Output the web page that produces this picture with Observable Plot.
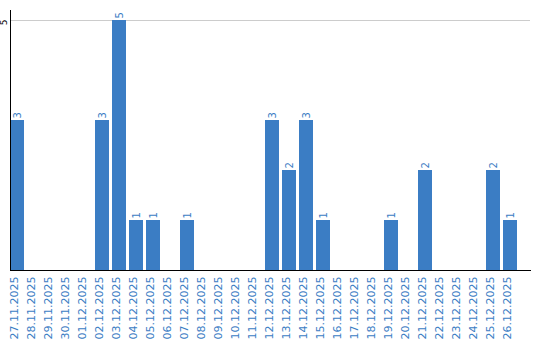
<!DOCTYPE html>
<html>
<head>
<meta charset="utf-8">
<script src="https://cdn.jsdelivr.net/npm/d3@7"></script>
<script src="https://cdn.jsdelivr.net/npm/@observablehq/plot@0.6"></script>
<style>
  html, body { margin: 0; padding: 0; background: #fff; }
  #chart svg { display: block; font-family: "DejaVu Sans", sans-serif; }
</style>
</head>
<body>
<div id="chart"></div>
<script>
const dates = ["27.11.2025","28.11.2025","29.11.2025","30.11.2025","01.12.2025","02.12.2025","03.12.2025","04.12.2025","05.12.2025","06.12.2025","07.12.2025","08.12.2025","09.12.2025","10.12.2025","11.12.2025","12.12.2025","13.12.2025","14.12.2025","15.12.2025","16.12.2025","17.12.2025","18.12.2025","19.12.2025","20.12.2025","21.12.2025","22.12.2025","23.12.2025","24.12.2025","25.12.2025","26.12.2025"];
const values = [3,0,0,0,0,3,5,1,1,0,1,0,0,0,0,3,2,3,1,0,0,0,1,0,2,0,0,0,2,1];
const yTicks = [5];

const blue = "#3b7dc4";
const data = dates.map((d, i) => ({date: d, value: values[i]}));
const nonzero = data.filter(d => d.value > 0);

const chart = Plot.plot({
  width: 540,
  height: 340,
  marginLeft: 10,
  marginRight: 20,
  marginTop: 10,
  marginBottom: 70,
  style: {fontFamily: "DejaVu Sans, sans-serif"},
  x: {domain: dates, paddingInner: 0.176, paddingOuter: 0.088, align: 0, axis: null},
  y: {domain: [0, 5.2], axis: null},
  marks: [
    Plot.ruleY(yTicks, {stroke: "#cccccc", strokeWidth: 1, insetRight: -10}),
    Plot.barY(nonzero, {x: "date", y: "value", fill: blue}),
    Plot.text(nonzero, {x: "date", y: "value", text: d => String(d.value), rotate: -90, textAnchor: "start", dy: -2, fill: blue, fontSize: 10}),
    Plot.text(dates, {x: d => d, frameAnchor: "bottom", rotate: -90, textAnchor: "end", dy: 6, fill: blue, fontSize: 11}),
    Plot.text(yTicks, {y: d => d, frameAnchor: "left", rotate: -90, textAnchor: "middle", dx: -6, dy: 2, fill: "black", fontSize: 9}),
    Plot.ruleY([0], {stroke: "black", strokeWidth: 1, insetRight: -11}),
    Plot.frame({anchor: "left", stroke: "black"})
  ]
});
document.getElementById("chart").appendChild(chart);
</script>
</body>
</html>
